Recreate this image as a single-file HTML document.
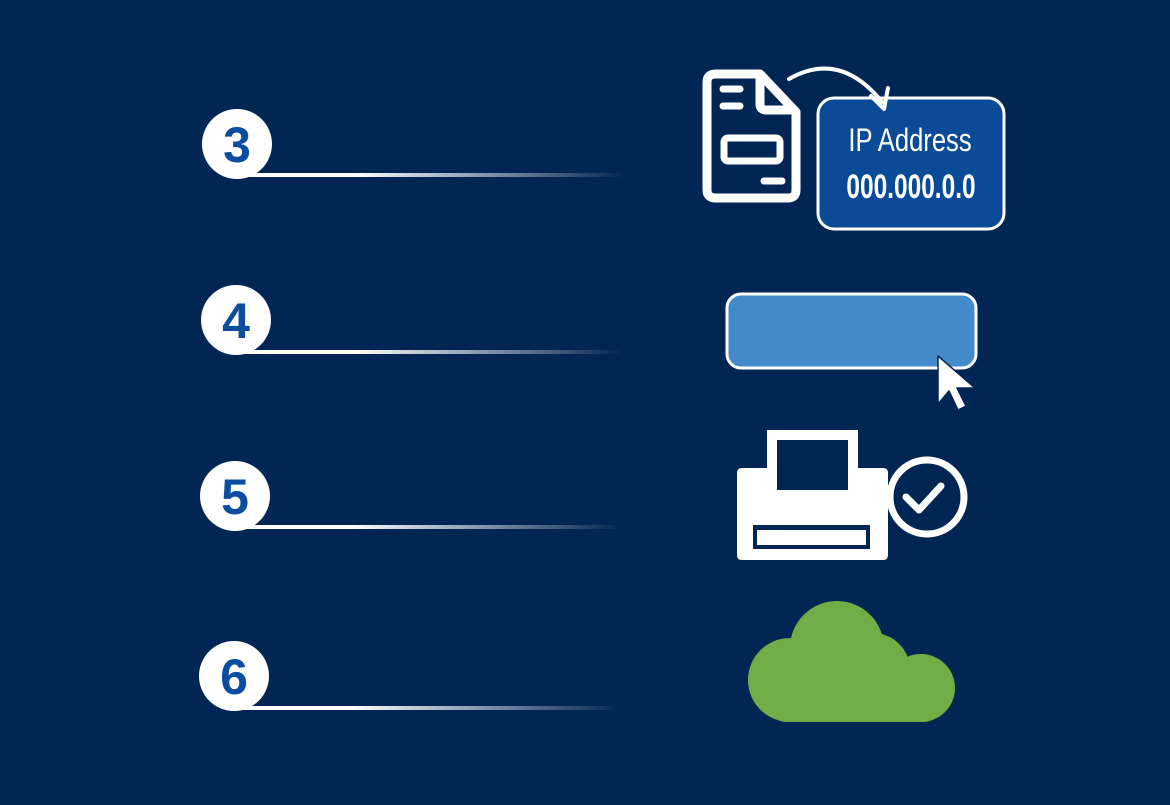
<!DOCTYPE html>
<html><head><style>
html,body{margin:0;padding:0;background:#022654;}
body{width:1170px;height:800px;overflow:hidden;}
</style></head><body>
<svg width="1170" height="800" viewBox="0 0 1170 800" xmlns="http://www.w3.org/2000/svg">
<defs>
<linearGradient id="lg" x1="0" x2="1" y1="0" y2="0">
<stop offset="0" stop-color="#fff"/>
<stop offset="0.3" stop-color="#fff"/>
<stop offset="1" stop-color="#fff" stop-opacity="0"/>
</linearGradient>
</defs>
<rect width="1170" height="800" fill="#022654"/>
<g font-family="Liberation Sans, sans-serif" font-size="50" font-weight="bold" fill="#0b4ea0" text-anchor="middle">
<rect x="240" y="173" width="385" height="4" fill="url(#lg)"/>
<circle cx="237" cy="144" r="35" fill="#fff"/>
<text x="237" y="162">3</text>
<rect x="238" y="350" width="385" height="4" fill="url(#lg)"/>
<circle cx="236" cy="320" r="35" fill="#fff"/>
<text x="236" y="338">4</text>
<rect x="236" y="525" width="385" height="4" fill="url(#lg)"/>
<circle cx="235" cy="496" r="35" fill="#fff"/>
<text x="235" y="514">5</text>
<rect x="235" y="706" width="385" height="4" fill="url(#lg)"/>
<circle cx="234" cy="676" r="35" fill="#fff"/>
<text x="234" y="694">6</text>
</g>
<!-- doc icon -->
<path d="M716 74 H760 L796 112 V190 Q796 198 788 198 H716 Q707 198 707 190 V82 Q707 74 716 74 Z" fill="none" stroke="#fff" stroke-width="9" stroke-linejoin="round"/>
<path d="M760 76 V104 Q760 110 766 110 H794" fill="none" stroke="#fff" stroke-width="9" stroke-linejoin="round"/>
<line x1="723" y1="89" x2="740" y2="89" stroke="#fff" stroke-width="7" stroke-linecap="round"/>
<line x1="723" y1="106" x2="740" y2="106" stroke="#fff" stroke-width="7" stroke-linecap="round"/>
<rect x="724" y="138" width="56" height="23" rx="4" fill="none" stroke="#fff" stroke-width="7"/>
<line x1="764" y1="181" x2="782" y2="181" stroke="#fff" stroke-width="7" stroke-linecap="round"/>
<!-- IP box -->
<rect x="818" y="98" width="186" height="131" rx="16" fill="#0a4a96" stroke="#fff" stroke-width="3"/>
<!-- arrow -->
<path d="M789 79 Q840 50 882 102" fill="none" stroke="#fff" stroke-width="4" stroke-linecap="round"/>
<path d="M871 96 L884 109 L888 88" fill="none" stroke="#fff" stroke-width="4" stroke-linecap="round" stroke-linejoin="round"/>
<g font-family="Liberation Sans, sans-serif" fill="#fff" text-anchor="middle">
<text x="910" y="151" font-size="32" transform="translate(910 0) scale(0.8 1) translate(-910 0)">IP Address</text>
<text x="911" y="198" font-size="34" font-weight="bold" transform="translate(911 0) scale(0.72 1) translate(-911 0)">000.000.0.0</text>
</g>
<!-- input box -->
<rect x="727" y="294" width="249" height="74" rx="14" fill="#428ac9" stroke="#fff" stroke-width="3"/>
<path d="M938 356 L938 404 L949 391 L958 410 L966 406 L957 388 L975 388 Z" fill="#fff" stroke="#022654" stroke-width="1.5" stroke-linejoin="round"/>
<!-- printer -->
<path d="M742 468 H767 V490 H858 V468 H883 Q888 468 888 473 V555 Q888 560 883 560 H742 Q737 560 737 555 V473 Q737 468 742 468 Z" fill="#fff"/>
<rect x="772" y="435" width="81" height="60" fill="none" stroke="#fff" stroke-width="10"/>
<rect x="753" y="525" width="117" height="24" fill="#022654"/>
<rect x="757" y="530" width="109" height="15" fill="#fff"/>
<circle cx="927" cy="497" r="37" fill="#022654" stroke="#fff" stroke-width="7"/>
<path d="M906 497 L919 510 L941 486" fill="none" stroke="#fff" stroke-width="7" stroke-linecap="round" stroke-linejoin="round"/>
<!-- cloud -->
<g fill="#70ad47">
<circle cx="837" cy="648" r="47"/>
<circle cx="790" cy="680" r="42"/>
<circle cx="873" cy="670" r="37"/>
<circle cx="921" cy="688" r="34"/>
<rect x="790" y="660" width="131" height="62"/>
<rect x="770" y="690" width="170" height="32" rx="16"/>
</g>
</svg>
</body></html>
